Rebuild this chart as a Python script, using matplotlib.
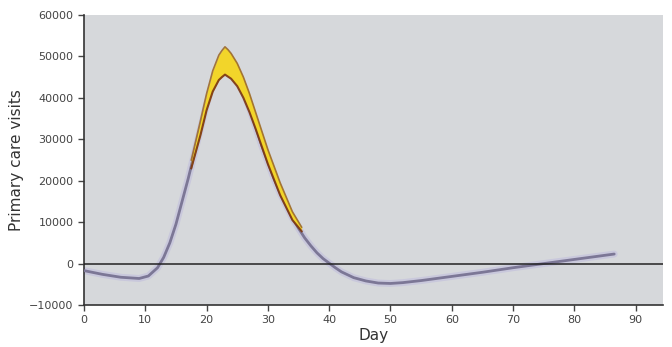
import matplotlib.pyplot as plt

# median curve: day vs primary care visits
days = [0, 3, 6, 9, 10.5, 12, 13, 14, 15, 16, 17, 18, 19, 20, 21, 22, 22.5, 23,
        23.5, 24, 25, 26, 27, 28, 29, 30, 31, 32, 33, 34, 35, 36, 37, 38, 39,
        40, 41, 42, 44, 46, 48, 50, 52, 55, 60, 65, 70, 75, 80, 86.5]
visits = [-1700, -2600, -3300, -3600, -3000, -1000, 1500, 5000, 9500, 15000,
          20500, 26500, 32500, 38500, 43500, 47000, 48000, 48600, 48100, 47300,
          45000, 41500, 37500, 33000, 28500, 24500, 20500, 17000, 14000, 11000,
          8500, 6200, 4300, 2600, 1200, 100, -1000, -2000, -3400, -4200, -4700,
          -4800, -4600, -4100, -3100, -2100, -1000, 0, 1000, 2300]

# uncertainty band around the peak
band_days = [17.5, 19, 20, 21, 22, 22.5, 23, 23.5, 24, 25, 26, 27, 28, 30, 32,
             34, 35.5]
band_upper = [25000, 34500, 41000, 46500, 50300, 51400, 52300, 51600, 50700,
              48300, 45000, 41000, 36500, 27500, 19500, 12500, 8800]
band_lower = [23000, 31000, 37000, 41500, 44300, 45000, 45600, 45100, 44600,
              42800, 40000, 36500, 32500, 24000, 16500, 10500, 7800]

fig, ax = plt.subplots(figsize=(6.72, 3.47), dpi=100)
fig.subplots_adjust(left=0.125, right=0.987, bottom=0.121, top=0.957)
ax.set_facecolor('#d6d8db')

# median line with soft halo
ax.plot(days, visits, color='#c9c8dc', lw=5, solid_capstyle='round',
        solid_joinstyle='round', zorder=2)
ax.plot(days, visits, color='#7c7796', lw=2, solid_capstyle='round',
        solid_joinstyle='round', zorder=3)

# band
ax.fill_between(band_days, band_lower, band_upper, color='#f2d52a', lw=0, zorder=4)
ax.plot(band_days, band_upper, color='#9c6a2e', lw=1.2, alpha=0.9,
        solid_joinstyle='round', zorder=5)
ax.plot(band_days, band_lower, color='#7a3412', lw=1.5, alpha=0.9,
        solid_joinstyle='round', zorder=5)

ax.axhline(0, color='#222222', lw=1.1, zorder=6)

ax.set_xlim(0, 94.5)
ax.set_ylim(-10000, 60000)
ax.set_xticks(range(0, 91, 10))
ax.set_yticks(range(-10000, 60001, 10000))
for s in ['top', 'right']:
    ax.spines[s].set_visible(False)
for s in ['left', 'bottom']:
    ax.spines[s].set_color('#333333')
    ax.spines[s].set_linewidth(1.2)
ax.tick_params(direction='out', length=4, width=1, colors='#444444', labelsize=8)
ax.set_xlabel('Day', fontsize=11, color='#333333', labelpad=2)
ax.set_ylabel('Primary care visits', fontsize=11, color='#333333', labelpad=4)

plt.savefig('out.png', dpi=100)
